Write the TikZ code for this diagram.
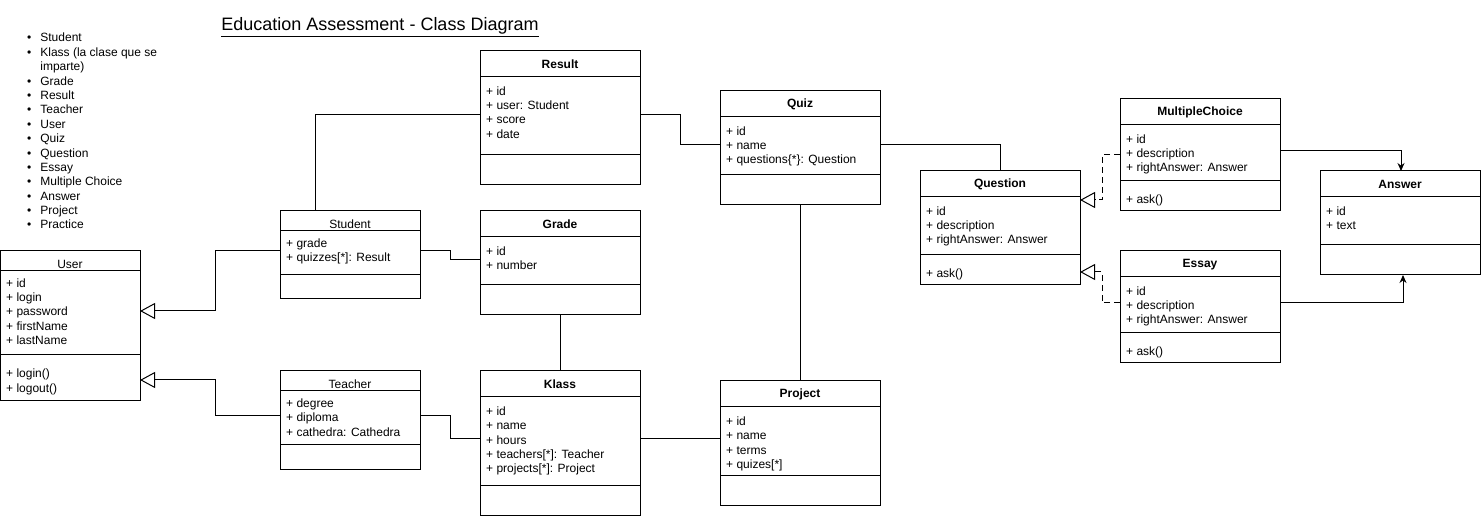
\documentclass[tikz,border=0pt]{standalone}
\usepackage{fontspec}
\setmainfont{Liberation Sans}
\usetikzlibrary{arrows.meta,calc}
\tikzset{
  x=1pt, y=-1pt,
  classbox/.style={draw=black, line width=1pt, fill=white, inner sep=0pt, outer sep=0pt},
  classline/.style={draw=black, line width=1pt},
  conn/.style={draw=black, line width=1pt},
  gen/.style={conn, -{Triangle[open,length=15pt,width=16pt]}},
  realize/.style={gen, dash pattern=on 6pt off 4pt},
  assoc/.style={conn, -{Stealth[length=8pt,width=7pt]}},
  attr/.style={inner sep=0pt, align=left, anchor=north west, font=\fontsize{12}{14.4}\selectfont},
  ctitle/.style={inner sep=0pt, font=\fontsize{12}{14.4}\selectfont},
}
% #1 name, #2 x,y, #3 width, #4 header h, #5 attr h, #6 method h, #7 title, #8 attrs, #9 methods
\newcommand{\umlclass}[9]{%
  \pgfmathsetmacro\umlaoff{#4<24 ? 12 : 14}%
  \pgfmathsetmacro\umltoff{#4<24 ? 3 : 0.5}%
  \node[classbox, anchor=north west, minimum width=#3pt, minimum height={(#4+#5+#6)*1pt}] (#1) at (#2) {};
  \draw[classline] ($(#1.north west)+(0,#4)$) -- ++(#3,0);
  \draw[classline] ($(#1.north west)+(0,#4+#5)$) -- ++(#3,0);
  \node[ctitle] (#1-title) at ($(#1.north)+(0,#4/2+\umltoff)$) {#7};
  \node[attr] (#1-attrs) at ($(#1.north west)+(6,#4+\umlaoff+4-9)$) {\rule{0pt}{9pt}#8};
  \node[attr] (#1-ops) at ($(#1.north west)+(6,#4+#5+22.5-9)$) {\rule{0pt}{9pt}#9};
}
\begin{document}
\begin{tikzpicture}
\useasboundingbox (0,0) rectangle (1481,518);

% title
\node[inner sep=0pt, font=\fontsize{18}{20}\selectfont] (title) at (380,27) {\underline{Education Assessment - Class Diagram}};

% bullet list
\node[inner sep=0pt, anchor=base west, font=\fontsize{12}{14.38}\selectfont] (list) at (27,42)
{\begin{tabular}[t]{@{}l@{\hspace{9pt}}l@{}}
\textbullet & Student\\
\textbullet & Klass (la clase que se\\
 & imparte)\\
\textbullet & Grade\\
\textbullet & Result\\
\textbullet & Teacher\\
\textbullet & User\\
\textbullet & Quiz\\
\textbullet & Question\\
\textbullet & Essay\\
\textbullet & Multiple Choice\\
\textbullet & Answer\\
\textbullet & Project\\
\textbullet & Practice
\end{tabular}};

% classes
\umlclass{user}{0,251}{140}{20}{84}{46}{User}{+ id\\+ login\\+ password\\+ firstName\\+ lastName}{+ login()\\+ logout()}
\umlclass{student}{280,211}{140}{20}{44}{24}{Student}{+ grade\\+ quizzes[*]: Result}{}
\umlclass{teacher}{280,371}{140}{20}{54}{24}{Teacher}{+ degree\\+ diploma\\+ cathedra: Cathedra}{}
\umlclass{result}{480,51}{160}{26}{78}{30}{\textbf{Result}}{+ id\\+ user: Student\\+ score\\+ date}{}
\umlclass{grade}{480,211}{160}{26}{48}{30}{\textbf{Grade}}{+ id\\+ number}{}
\umlclass{klass}{480,371}{160}{26}{88}{30}{\textbf{Klass}}{+ id\\+ name\\+ hours\\+ teachers[*]: Teacher\\+ projects[*]: Project}{}
\umlclass{quiz}{720,91}{160}{26}{58}{30}{\textbf{Quiz}}{+ id\\+ name\\+ questions\{*\}: Question}{}
\umlclass{project}{720,381}{160}{26}{68}{30}{\textbf{Project}}{+ id\\+ name\\+ terms\\+ quizes[*]}{}
\umlclass{question}{920,171}{160}{26}{58}{30}{\textbf{Question}}{+ id\\+ description\\+ rightAnswer: Answer}{+ ask()}
\umlclass{mc}{1120,99}{160}{26}{56}{30}{\textbf{MultipleChoice}}{+ id\\+ description\\+ rightAnswer: Answer}{+ ask()}
\umlclass{essay}{1120,251}{160}{26}{56}{30}{\textbf{Essay}}{+ id\\+ description\\+ rightAnswer: Answer}{+ ask()}
\umlclass{answer}{1320,171}{160}{26}{48}{30}{\textbf{Answer}}{+ id\\+ text}{}

% connectors
\draw[conn] ($(student.north west)+(35,0)$) |- ($(result.north west)+(0,64)$);
\draw[conn] ($(student.north east)+(0,40)$) -- ++(30,0) |- ($(grade.north west)+(0,49)$);
\draw[gen] ($(student.north west)+(0,40)$) -- ++(-65,0) |- ($(user.north east)+(0,60)$);
\draw[gen] ($(teacher.north west)+(0,45)$) -- ++(-65,0) |- ($(user.north east)+(0,129)$);
\draw[conn] ($(teacher.north east)+(0,45)$) -- ++(30,0) |- ($(klass.north west)+(0,68)$);
\draw[conn] (grade.south) -- (klass.north);
\draw[conn] ($(klass.north east)+(0,68)$) -- ($(project.north west)+(0,58)$);
\draw[conn] (quiz.south) -- (project.north);
\draw[conn] ($(result.north east)+(0,64)$) -- ++(40,0) |- ($(quiz.north west)+(0,54)$);
\draw[conn] ($(quiz.north east)+(0,54)$) -| (question.north);
\draw[realize] ($(mc.north west)+(0,56)$) -- ++(-18,0) |- ($(question.north east)+(0,29)$);
\draw[realize] ($(essay.north west)+(0,52)$) -- ++(-18,0) |- ($(question.north east)+(0,101)$);
\draw[assoc] ($(mc.north east)+(0,52)$) -| ($(answer.north west)+(81,0)$);
\draw[assoc] ($(essay.north east)+(0,52)$) -| ($(answer.south west)+(83,0)$);
\end{tikzpicture}
\end{document}
